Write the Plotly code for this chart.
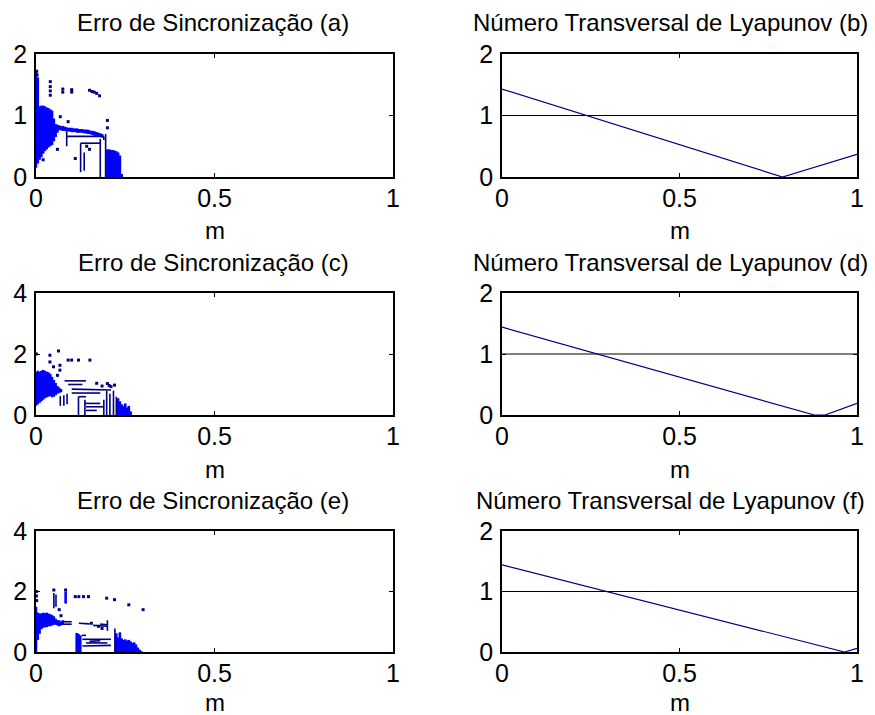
import plotly.graph_objects as go

# ---------------- data ----------------
x_ticks = [0, 0.5, 1]
x_tick_text = ["0", "0.5", "1"]

titles = ["Erro de Sincronização (a)", "Número Transversal de Lyapunov (b)",
          "Erro de Sincronização (c)", "Número Transversal de Lyapunov (d)",
          "Erro de Sincronização (e)", "Número Transversal de Lyapunov (f)"]
x_label = "m"

# Panel (a): dense columns (m, low, high)
a_col_m = [0.000, 0.005, 0.010, 0.015, 0.020, 0.025, 0.030, 0.035, 0.040, 0.045, 0.050, 0.055, 0.060,
           0.065, 0.070, 0.075, 0.080, 0.085, 0.090, 0.095, 0.100, 0.105, 0.110, 0.115, 0.120, 0.125,
           0.130, 0.135, 0.140, 0.145, 0.150, 0.155, 0.160, 0.165, 0.170, 0.175, 0.180, 0.185,
           0.200, 0.205, 0.210, 0.215, 0.220, 0.225, 0.230, 0.235, 0.240]
a_col_lo = [0.15, 0.22, 0.28, 0.32, 0.38, 0.42, 0.45, 0.48, 0.50, 0.52, 0.58, 0.65, 0.72,
            0.76, 0.76, 0.75, 0.75, 0.74, 0.74, 0.74, 0.73, 0.73, 0.73, 0.72, 0.72, 0.72,
            0.72, 0.71, 0.71, 0.70, 0.70, 0.69, 0.68, 0.67, 0.67, 0.66, 0.66, 0.64,
            0.0, 0.0, 0.0, 0.0, 0.0, 0.0, 0.0, 0.0, 0.0]
a_col_hi = [1.72, 1.62, 1.15, 1.16, 1.16, 1.15, 1.13, 1.12, 1.10, 1.08, 0.95, 0.86, 0.85,
            0.84, 0.83, 0.83, 0.82, 0.81, 0.80, 0.80, 0.80, 0.79, 0.79, 0.79, 0.78, 0.78,
            0.78, 0.77, 0.77, 0.77, 0.76, 0.75, 0.75, 0.74, 0.73, 0.72, 0.71, 0.70,
            0.45, 0.45, 0.44, 0.44, 0.43, 0.42, 0.40, 0.35, 0.05]
# Panel (a): line segments (m0, y0, m1, y1)
a_seg_m0 = [0.086, 0.086, 0.125, 0.125, 0.180, 0.195, 0.135, 0.190]
a_seg_y0 = [0.50, 0.66, 0.08, 0.55, 0.00, 0.00, 0.10, 0.60]
a_seg_m1 = [0.086, 0.190, 0.125, 0.180, 0.180, 0.195, 0.135, 0.190]
a_seg_y1 = [0.74, 0.66, 0.55, 0.55, 0.62, 0.70, 0.40, 0.66]
# Panel (a): isolated points
a_dot_m = [0.002, 0.003, 0.040, 0.040, 0.040, 0.040, 0.075, 0.075, 0.100, 0.100, 0.150, 0.157,
           0.163, 0.170, 0.178, 0.068, 0.200, 0.200, 0.020, 0.060, 0.090, 0.142, 0.150, 0.110]
a_dot_y = [1.72, 1.66, 1.55, 1.47, 1.40, 1.33, 1.43, 1.38, 1.42, 1.38, 1.41, 1.39,
           1.38, 1.36, 1.32, 0.98, 0.92, 0.80, 0.28, 0.45, 0.90, 0.50, 0.45, 0.30]

# Panel (c)
c_col_m = [0.000, 0.005, 0.010, 0.015, 0.020, 0.025, 0.030, 0.035, 0.040, 0.045, 0.050, 0.055,
           0.060, 0.065, 0.070, 0.230, 0.235, 0.240, 0.245, 0.250, 0.255, 0.260, 0.265]
c_col_lo = [0.30, 0.35, 0.40, 0.45, 0.50, 0.55, 0.58, 0.60, 0.62, 0.58, 0.60, 0.65,
            0.70, 0.72, 0.75, 0.0, 0.0, 0.0, 0.0, 0.0, 0.0, 0.0, 0.0]
c_col_hi = [1.40, 1.45, 1.42, 1.45, 1.48, 1.45, 1.42, 1.40, 1.35, 1.25, 1.15, 1.05,
            0.95, 0.90, 0.85, 0.55, 0.45, 0.35, 0.30, 0.38, 0.25, 0.30, 0.12]
c_seg_m0 = [0.068, 0.078, 0.087, 0.080, 0.090, 0.100, 0.100, 0.119, 0.119, 0.137, 0.137, 0.140,
            0.140, 0.198, 0.207, 0.217, 0.225, 0.190]
c_seg_y0 = [0.30, 0.30, 0.35, 1.12, 1.00, 0.85, 0.72, 0.00, 0.60, 0.00, 0.38, 0.27,
            0.15, 0.00, 0.00, 0.00, 0.00, 0.00]
c_seg_m1 = [0.068, 0.078, 0.087, 0.140, 0.130, 0.210, 0.180, 0.119, 0.140, 0.137, 0.180, 0.190,
            0.170, 0.198, 0.207, 0.217, 0.225, 0.190]
c_seg_y1 = [0.62, 0.65, 0.70, 1.12, 1.00, 0.82, 0.72, 0.60, 0.60, 0.50, 0.38, 0.27,
            0.15, 0.80, 0.70, 0.80, 0.60, 0.50]
c_dot_m = [0.001, 0.039, 0.039, 0.063, 0.067, 0.049, 0.090, 0.100, 0.119, 0.151, 0.067, 0.170,
           0.200, 0.205, 0.210, 0.220, 0.185, 0.060]
c_dot_y = [2.00, 1.96, 1.74, 2.10, 1.63, 1.58, 1.80, 1.80, 1.80, 1.80, 1.47, 1.04,
           1.03, 0.97, 0.93, 0.98, 0.95, 1.30]

# Panel (e)
e_col_m = [0.000, 0.005, 0.010, 0.015, 0.020, 0.025, 0.030, 0.035, 0.040, 0.045, 0.050, 0.055,
           0.060, 0.065, 0.070, 0.075, 0.083, 0.114, 0.119, 0.124,
           0.225, 0.230, 0.235, 0.240, 0.245, 0.250, 0.255, 0.260, 0.265, 0.270, 0.275,
           0.280, 0.285, 0.290, 0.295]
e_col_lo = [0.00, 0.40, 0.60, 0.75, 0.80, 0.82, 0.82, 0.85, 0.85, 0.88, 0.90, 0.90,
            0.88, 0.85, 0.88, 0.90, 1.60, 0.00, 0.00, 0.00,
            0.0, 0.0, 0.0, 0.0, 0.0, 0.0, 0.0, 0.0, 0.0, 0.0, 0.0,
            0.0, 0.0, 0.0, 0.0]
e_col_hi = [1.50, 1.30, 1.28, 1.27, 1.30, 1.28, 1.30, 1.27, 1.25, 1.22, 1.18, 1.10,
            1.05, 1.05, 1.00, 1.05, 2.00, 0.63, 0.60, 0.55,
            0.62, 0.48, 0.65, 0.45, 0.40, 0.42, 0.38, 0.40, 0.35, 0.30, 0.32,
            0.25, 0.15, 0.08, 0.03]
e_seg_m0 = [0.050, 0.056, 0.070, 0.070, 0.120, 0.160, 0.180, 0.200, 0.130, 0.140, 0.130, 0.150,
            0.221, 0.128]
e_seg_y0 = [1.45, 1.50, 1.00, 0.92, 0.95, 0.88, 0.92, 0.70, 0.42, 0.30, 0.20, 0.35,
            0.00, 0.55]
e_seg_m1 = [0.050, 0.056, 0.100, 0.100, 0.150, 0.200, 0.200, 0.200, 0.210, 0.200, 0.210, 0.180,
            0.221, 0.140]
e_seg_y1 = [1.95, 1.90, 1.00, 0.92, 0.93, 0.85, 0.90, 1.05, 0.42, 0.30, 0.22, 0.37,
            0.78, 0.55]
e_dot_m = [0.001, 0.001, 0.002, 0.050, 0.083, 0.110, 0.120, 0.133, 0.147, 0.198, 0.220, 0.260,
           0.300, 0.065, 0.070, 0.175, 0.185, 0.155]
e_dot_y = [2.00, 1.85, 1.70, 2.05, 2.05, 1.83, 1.83, 1.83, 1.83, 1.78, 1.73, 1.56,
           1.40, 1.40, 1.20, 0.85, 0.78, 0.95]

# Lyapunov panels (b), (d), (f)
b_m = [0.0, 0.79, 1.0]
b_val = [1.43, 0.0, 0.37]
d_m = [0.0, 0.88, 0.91, 1.0]
d_val = [1.44, 0.0, 0.0, 0.19]
f_m = [0.0, 0.965, 1.0]
f_val = [1.44, 0.0, 0.06]
ref_m = [0.0, 1.0]
ref_val = [1.0, 1.0]

y_max = [2, 2, 4, 2, 4, 2]
y_ticks = [[0, 1, 2], [0, 1, 2], [0, 2, 4], [0, 1, 2], [0, 2, 4], [0, 1, 2]]

# ---------------- layout helpers ----------------
W, H = 875, 715
col_px = [(36, 393), (502, 857)]
row_px = [(54, 177), (293, 415), (531, 652)]
label_off = [54, 54, 50]
title_cx = [213, 670]

BLUE = "#0000FF"
NAVY = "#000080"
FONT = "Liberation Sans, Arial, sans-serif"

fig = go.Figure()


def seg_xy(m0, y0, m1, y1):
    xs, ys = [], []
    for a, b, c, d in zip(m0, y0, m1, y1):
        xs += [a, c, None]
        ys += [b, d, None]
    return xs, ys


def col_xy(m, lo, hi):
    xs, ys = [], []
    for a, b, c in zip(m, lo, hi):
        xs += [a, a, None]
        ys += [b, c, None]
    return xs, ys


def axis_names(i):
    return ("x" if i == 0 else f"x{i+1}"), ("y" if i == 0 else f"y{i+1}")


def add_scatter_panel(i, cm, clo, chi, sm0, sy0, sm1, sy1, dm, dy):
    xa, ya = axis_names(i)
    xs, ys = col_xy(cm, clo, chi)
    fig.add_trace(go.Scatter(x=xs, y=ys, mode="lines", line=dict(color=BLUE, width=2.6),
                             xaxis=xa, yaxis=ya, showlegend=False, hoverinfo="skip"))
    xs, ys = seg_xy(sm0, sy0, sm1, sy1)
    fig.add_trace(go.Scatter(x=xs, y=ys, mode="lines", line=dict(color=NAVY, width=1.6),
                             xaxis=xa, yaxis=ya, showlegend=False, hoverinfo="skip"))
    fig.add_trace(go.Scatter(x=dm, y=dy, mode="markers",
                             marker=dict(color=NAVY, size=3, symbol="square", line=dict(width=0)),
                             xaxis=xa, yaxis=ya, showlegend=False, hoverinfo="skip"))


def add_line_panel(i, m, v):
    xa, ya = axis_names(i)
    fig.add_trace(go.Scatter(x=ref_m, y=ref_val, mode="lines", line=dict(color="black", width=1.2),
                             xaxis=xa, yaxis=ya, showlegend=False, hoverinfo="skip"))
    fig.add_trace(go.Scatter(x=m, y=v, mode="lines", line=dict(color=NAVY, width=1.2),
                             xaxis=xa, yaxis=ya, showlegend=False, hoverinfo="skip"))


add_scatter_panel(0, a_col_m, a_col_lo, a_col_hi, a_seg_m0, a_seg_y0, a_seg_m1, a_seg_y1, a_dot_m, a_dot_y)
add_line_panel(1, b_m, b_val)
add_scatter_panel(2, c_col_m, c_col_lo, c_col_hi, c_seg_m0, c_seg_y0, c_seg_m1, c_seg_y1, c_dot_m, c_dot_y)
add_line_panel(3, d_m, d_val)
add_scatter_panel(4, e_col_m, e_col_lo, e_col_hi, e_seg_m0, e_seg_y0, e_seg_m1, e_seg_y1, e_dot_m, e_dot_y)
add_line_panel(5, f_m, f_val)

layout = dict(width=W, height=H, margin=dict(l=0, r=0, t=0, b=0, autoexpand=False),
              template="none", autosize=False,
              paper_bgcolor="white", plot_bgcolor="white",
              font=dict(family=FONT, color="black", size=25), annotations=[])

for i in range(6):
    r, c = divmod(i, 2)
    x0, x1 = col_px[c]
    yt, yb = row_px[r]
    xkey = "xaxis" if i == 0 else f"xaxis{i+1}"
    ykey = "yaxis" if i == 0 else f"yaxis{i+1}"
    xa, ya = axis_names(i)
    layout[xkey] = dict(domain=[x0 / W, x1 / W], anchor=ya, range=[0, 1], automargin=False,
                        tickvals=x_ticks, ticktext=x_tick_text, ticks="inside", ticklen=4,
                        tickcolor="black", showline=True, linecolor="black", linewidth=1.5,
                        mirror="ticks", showgrid=False, zeroline=False,
                        tickfont=dict(size=25, family=FONT), ticklabelstandoff=-2)
    layout[ykey] = dict(domain=[1 - yb / H, 1 - yt / H], anchor=xa, range=[0, y_max[i]],
                        automargin=False,
                        tickvals=y_ticks[i], ticks="inside", ticklen=4, tickcolor="black",
                        showline=True, linecolor="black", linewidth=1.5, mirror="ticks",
                        showgrid=False, zeroline=False,
                        tickfont=dict(size=25, family=FONT), ticklabelstandoff=2)
    layout["annotations"].append(dict(text=titles[i], x=title_cx[c] / W, y=1 - (yt - 31) / H,
                                      xref="paper", yref="paper", showarrow=False,
                                      xanchor="center", yanchor="middle",
                                      font=dict(size=24, family=FONT)))
    layout["annotations"].append(dict(text=x_label, x=((x0 + x1) / 2) / W,
                                      y=1 - (yb + label_off[r]) / H,
                                      xref="paper", yref="paper", showarrow=False,
                                      xanchor="center", yanchor="middle",
                                      font=dict(size=24, family=FONT)))

fig.update_layout(**layout)
fig.write_html("out.html")
